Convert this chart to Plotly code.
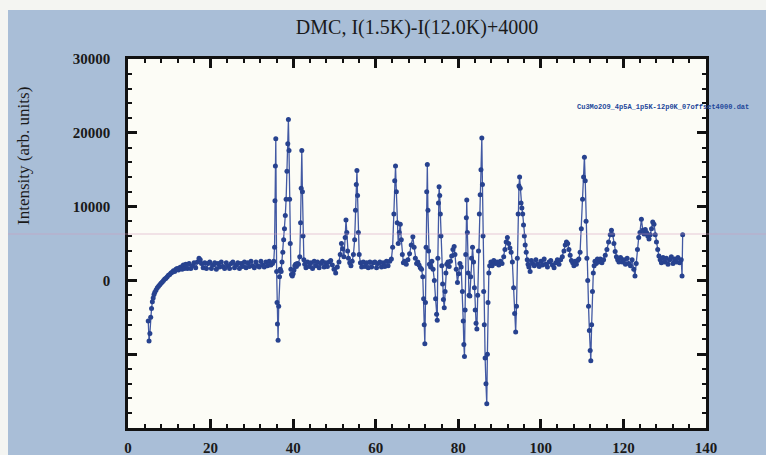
import plotly.graph_objects as go

# ---------------- data ----------------
two_theta = [
    4.9, 5.1, 5.3, 5.5, 5.7, 5.9, 6.1, 6.3, 6.5, 6.8,
    7.1, 7.4, 7.7, 8.0, 8.3, 8.6, 8.9, 9.2, 9.5, 9.8,
    10.1, 10.4, 10.7, 11.0, 11.3, 11.6, 11.9, 12.2, 12.5, 12.8,
    13.1, 13.4, 13.7, 14.0, 14.4, 14.8, 15.2, 15.6, 16.0, 16.4,
    16.8, 17.2, 17.5, 17.8, 18.2, 18.6, 19.0, 19.4, 19.8, 20.2,
    20.6, 21.0, 21.4, 21.8, 22.2, 22.6, 23.0, 23.4, 23.8, 24.2,
    24.6, 25.0, 25.4, 25.8, 26.2, 26.6, 27.0, 27.4, 27.8, 28.2,
    28.6, 29.0, 29.4, 29.8, 30.2, 30.6, 31.0, 31.4, 31.8, 32.2,
    32.6, 33.0, 33.4, 33.8, 34.2, 34.6, 35.0, 35.3, 35.5, 35.6,
    35.7, 35.8, 36.0, 36.1, 36.2, 36.35, 36.5, 36.7, 36.9, 37.1,
    37.3, 37.5, 37.7, 37.9, 38.1, 38.3, 38.5, 38.7, 38.85, 39.0,
    39.15, 39.3, 39.45, 39.6, 39.8, 40.0, 40.2, 40.4, 40.6, 40.8,
    41.0, 41.3, 41.6, 41.8, 41.95, 42.1, 42.25, 42.4, 42.6, 42.8,
    43.1, 43.5, 43.9, 44.3, 44.7, 45.1, 45.5, 45.9, 46.3, 46.7,
    47.1, 47.5, 47.9, 48.3, 48.7, 49.1, 49.5, 49.9, 50.3, 50.7,
    51.1, 51.4, 51.7, 52.0, 52.3, 52.6, 52.8, 53.0, 53.2, 53.4,
    53.7, 54.0, 54.3, 54.6, 54.9, 55.1, 55.3, 55.45, 55.6, 55.8,
    56.0, 56.3, 56.6, 57.0, 57.4, 57.8, 58.2, 58.6, 59.0, 59.4,
    59.8, 60.2, 60.6, 61.0, 61.4, 61.8, 62.2, 62.6, 63.0, 63.4,
    63.8, 64.1, 64.4, 64.6, 64.8, 65.0, 65.2, 65.45, 65.7, 65.95,
    66.2, 66.45, 66.7, 67.0, 67.4, 67.8, 68.2, 68.6, 69.0, 69.3,
    69.6, 69.9, 70.2, 70.5, 70.8, 71.1, 71.4, 71.6, 71.75, 71.9,
    72.05, 72.2, 72.35, 72.5, 72.65, 72.8, 73.0, 73.3, 73.6, 73.9,
    74.2, 74.5, 74.75, 74.9, 75.05, 75.2, 75.35, 75.5, 75.65, 75.8,
    76.0, 76.2, 76.4, 76.6, 76.8, 77.0, 77.2, 77.5, 77.8, 78.1,
    78.4, 78.7, 79.0, 79.2, 79.5, 79.8, 80.1, 80.4, 80.7, 81.0,
    81.2, 81.35, 81.5, 81.65, 81.8, 81.95, 82.05, 82.2, 82.4, 82.6,
    82.8, 83.0, 83.2, 83.45, 83.7, 83.9, 84.1, 84.3, 84.5, 84.7,
    84.9, 85.1, 85.3, 85.5, 85.7, 85.85, 86.0, 86.15, 86.3, 86.5,
    86.7, 86.9, 87.05, 87.2, 87.4, 87.6, 87.9, 88.2, 88.6, 89.0,
    89.4, 89.8, 90.2, 90.6, 91.0, 91.3, 91.6, 91.9, 92.2, 92.5,
    92.8, 93.1, 93.4, 93.65, 93.9, 94.1, 94.3, 94.5, 94.7, 94.85,
    95.0, 95.2, 95.4, 95.6, 95.8, 96.0, 96.2, 96.45, 96.7, 96.9,
    97.1, 97.4, 97.7, 98.0, 98.4, 98.8, 99.2, 99.6, 100.0, 100.4,
    100.8, 101.2, 101.6, 102.0, 102.4, 102.8, 103.2, 103.6, 104.0, 104.4,
    104.8, 105.2, 105.6, 105.9, 106.2, 106.5, 106.8, 107.1, 107.4, 107.7,
    108.0, 108.3, 108.6, 108.9, 109.2, 109.5, 109.8, 110.1, 110.35, 110.55,
    110.75, 110.95, 111.15, 111.35, 111.55, 111.75, 111.95, 112.1, 112.3, 112.5,
    112.7, 112.9, 113.1, 113.4, 113.7, 114.0, 114.4, 114.8, 115.2, 115.6,
    116.0, 116.4, 116.8, 117.1, 117.4, 117.7, 118.0, 118.3, 118.6, 118.9,
    119.3, 119.7, 120.1, 120.5, 120.9, 121.3, 121.7, 122.1, 122.5, 122.8,
    123.1, 123.4, 123.7, 124.0, 124.35, 124.7, 125.0, 125.3, 125.6, 125.9,
    126.2, 126.5, 126.8, 127.1, 127.4, 127.7, 128.0, 128.3, 128.6, 128.9,
    129.2, 129.6, 130.0, 130.4, 130.8, 131.2, 131.6, 132.0, 132.4, 132.8,
    133.2, 133.6, 134.0, 134.2, 134.35,
]

intensity = [
    -5500, -8200, -7200, -5000, -3800, -2900, -2400, -1900, -1600, -1300,
    -1000, -800, -600, -400, -200, 0, 200, 300, 500, 700,
    800, 1000, 1100, 1300, 1200, 1500, 1600, 1400, 1700, 1800,
    1500, 2100, 1600, 2200, 1600, 2300, 1600, 2000, 2400, 1700,
    2500, 3000, 2800, 2300, 1700, 2400, 1600, 2300, 2500, 1600,
    2100, 2400, 1500, 2300, 1800, 2500, 1900, 1600, 2400, 2000,
    1600, 2300, 2500, 1700, 2100, 2400, 1600, 2300, 1900, 2500,
    1700, 2400, 1900, 2600, 2000, 1700, 2500, 2000, 1800, 2600,
    2100, 1800, 2500, 2000, 2600, 2100, 2300, 2600, 4500, 10800,
    15500, 19200, 1200, -3000, -5900, -8100, -3500, 500, 1500, 1200,
    2500, 3800, 5500, 7000, 8800, 11000, 14800, 18500, 21800, 17600,
    11000, 5000, 1500, 800, 600, 900, 1400, 2000, 2200, 1900,
    2300, 2200, 3200, 7800, 12500, 17600, 12000, 6000, 2800, 2200,
    1700, 2500, 1900, 2400, 1600, 2600, 2000, 2500, 1700, 2300,
    2600, 1800, 2400, 1900, 2500, 2700, 2100, 1500, 1000, 1800,
    2500, 3500, 5000, 4300, 3200, 5800, 8200, 6500, 4000, 3000,
    2400, 2000, 2600, 3500, 5500, 9500, 13000, 14900, 11500, 6500,
    3500, 2400, 1800, 2500, 1900, 2400, 1700, 2500, 1800, 2400,
    2500, 1700, 2300, 2500, 1800, 2400, 1900, 2600, 2000, 2600,
    2900, 4500, 9000, 13500, 15500, 12000, 7800, 5000, 6500, 7600,
    5500, 3500, 2400, 2600, 2200, 2800, 3600, 4800, 5900, 4500,
    3000, 2300, 2500, 2100, 1700, 1500, 500, -2500, -6000, -8600,
    -3000, 4500, 12000, 15700, 9500, 4000, 2200, 1800, 2600, 1500,
    0, -2500, -4600, -5400, 3000, 10500, 12700, 11500, 9000, 6000,
    2000, -500, -2600, -3700, -1500, 1000, 2200, 2500, 1900, 2600,
    3300, 4200, 4600, 3500, 1500, -300, 900, 2300, 1800, -1500,
    -5500, -8700, -10300, -4000, 3500, 8500, 10900, 6500, 1000, -2000,
    -2100, 500, 3000, 4500, 2500, -1000, -4000, -5800, -6600, -2000,
    4000, 9000, 11600, 15000, 19300, 13000, 6000, -1500, -6000, -10500,
    -14000, -16700, -10000, -3000, 1000, 2000, 2500, 2000, 2700, 2300,
    2500, 2100, 2600, 2300, 3200, 4200, 5200, 5800, 5000, 4400,
    3800, 2500, -1000, -4500, -7000, -3500, 3000, 9000, 12800, 14000,
    12500, 10500, 9800, 9000, 7500, 6000, 4800, 3800, 2800, 2200,
    1800, 1200, 2700, 2300, 2000, 2800, 2200, 1900, 2600, 2100,
    2900, 2200, 1800, 2500, 2700, 2100, 1700, 2400, 2800, 2200,
    2800, 3200, 4000, 4800, 5200, 5000, 4200, 3400, 2700, 2400,
    2000, 2600, 2200, 2700, 2900, 3800, 7000, 11000, 14000, 16700,
    13500, 8000, 3000, 0, -3500, -6800, -9500, -10900, -6000, -1500,
    1000, 2000, 2600, 2300, 2900, 2500, 2900, 2400, 2800, 3400,
    4200, 5200, 6200, 6800, 6200, 5000, 3900, 3200, 2800, 2500,
    3100, 2500, 2800, 2200, 3000, 2300, 2000, 2800, 1500, 600,
    2300, 4200, 5800, 6500, 8300, 6800, 6300, 6900, 6500, 6000,
    5600, 6200, 7000, 7900, 7600, 6200, 5200, 4200, 3300, 2800,
    2400, 3100, 2500, 3000, 2200, 2800, 3200, 2300, 2900, 2500,
    3100, 2400, 2800, 600, 6200,
]

x_tick_vals = [0, 20, 40, 60, 80, 100, 120, 140]
y_tick_vals = [-20000, -10000, 0, 10000, 20000, 30000]
y_tick_text = ["", "", "0", "10000", "20000", "30000"]

title_text = "DMC, I(1.5K)-I(12.0K)+4000"
y_title_text = "Intensity (arb. units)"
file_label = "Cu3Mo2O9_4p5A_1p5K-12p0K_07offset4000.dat"

assert len(two_theta) == len(intensity)

# ---------------- figure ----------------
W, H = 766, 455
L, R, T, B = 128, 60, 59, 27
PW, PH = W - L - R, H - T - B


def px_to_paper_x(px):
    return (px - L) / PW


def py_to_paper_y(py):
    return (H - B - py) / PH


fig = go.Figure()
fig.add_trace(go.Scatter(
    x=two_theta, y=intensity,
    mode="lines+markers",
    line=dict(color="#4259a3", width=1.3),
    marker=dict(color="#27428f", size=5),
    showlegend=False,
    hoverinfo="skip",
))

serif = "Liberation Serif, Times New Roman, serif"
axis_common = dict(
    showline=True, linecolor="#111111", linewidth=2.5, mirror="allticks",
    ticks="inside", ticklen=9, tickwidth=2.5, tickcolor="#111111",
    showgrid=False, zeroline=False, automargin=False,
    tickfont=dict(family=serif, size=15, color="#1a1a1a", weight="bold"),
)

fig.update_xaxes(
    range=[0, 140], tickmode="array", tickvals=x_tick_vals,
    minor=dict(ticks="inside", ticklen=4, tickwidth=1.5, tickcolor="#111111",
               tickmode="linear", tick0=0, dtick=4),
    ticklabelstandoff=4,
    **axis_common,
)
fig.update_yaxes(
    range=[-20000, 30000], tickmode="array", tickvals=y_tick_vals, ticktext=y_tick_text,
    minor=dict(ticks="inside", ticklen=4, tickwidth=1.5, tickcolor="#111111",
               tickmode="linear", tick0=0, dtick=2000),
    ticklabelstandoff=12,
    **axis_common,
)

shapes = [
    # scanner white borders (top and left)
    dict(type="rect", xref="paper", yref="paper", layer="below",
         x0=px_to_paper_x(-5), x1=px_to_paper_x(W + 5),
         y0=py_to_paper_y(10), y1=py_to_paper_y(-5),
         fillcolor="#f4f5f2", line=dict(width=0)),
    dict(type="rect", xref="paper", yref="paper", layer="below",
         x0=px_to_paper_x(-5), x1=px_to_paper_x(8),
         y0=py_to_paper_y(H + 5), y1=py_to_paper_y(-5),
         fillcolor="#f4f5f2", line=dict(width=0)),
    # faint scanner streak
    dict(type="line", xref="paper", yref="paper", layer="above",
         x0=px_to_paper_x(8), x1=px_to_paper_x(W),
         y0=py_to_paper_y(234), y1=py_to_paper_y(234),
         line=dict(color="rgba(205,150,185,0.35)", width=1.5)),
]

annotations = [
    dict(text=y_title_text, xref="paper", yref="paper",
         x=px_to_paper_x(23), y=py_to_paper_y(156), textangle=-90,
         showarrow=False, xanchor="center", yanchor="middle",
         font=dict(family=serif, size=17, color="#1a1a1a")),
    dict(text=file_label, xref="paper", yref="paper",
         x=px_to_paper_x(575), y=py_to_paper_y(107),
         showarrow=False, xanchor="left", yanchor="middle",
         font=dict(family="Liberation Mono, monospace", size=7, color="#23479a",
                   weight="bold")),
]

fig.update_layout(
    width=W, height=H,
    margin=dict(l=L, r=R, t=T, b=B, pad=0, autoexpand=False),
    paper_bgcolor="#a9bed7",
    plot_bgcolor="#fcfcf6",
    title=dict(text=title_text, x=(L + PW / 2) / W, xanchor="center",
               y=1 - 27 / H, yanchor="middle", yref="container", xref="container",
               font=dict(family=serif, size=20, color="#1a1a1a"), automargin=False),
    shapes=shapes,
    annotations=annotations,
)

fig.write_html(
    "out.html",
    config={"displayModeBar": False},
    post_script="document.body.style.margin='0';document.body.style.overflow='hidden';",
)
